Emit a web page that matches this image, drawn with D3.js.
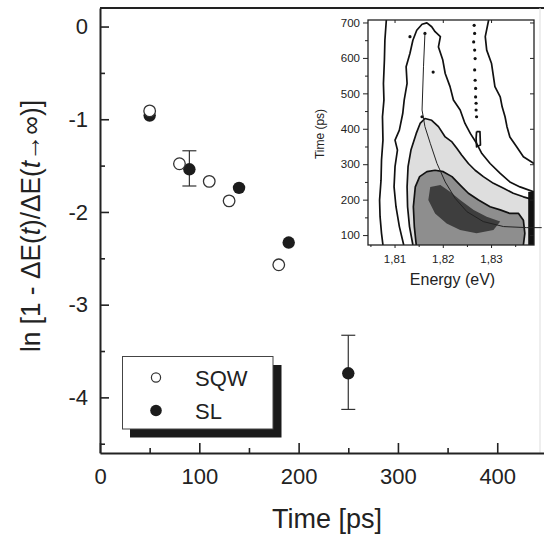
<!DOCTYPE html>
<html><head><meta charset="utf-8">
<script src="https://cdn.jsdelivr.net/npm/d3@7"></script>
<style>
body{margin:0;background:#fff}
svg{display:block}
text{font-family:"Liberation Sans",Arial,Helvetica,sans-serif;fill:#222}
</style>
</head><body>
<svg id="c" width="544" height="542"></svg>
<script>
// ---------------- main chart data ----------------
const sqwTime  = [50, 80, 110, 130, 180];
const sqwValue = [-0.91, -1.48, -1.67, -1.88, -2.57];
const slTime   = [50, 90, 140, 190, 250];
const slValue  = [-0.96, -1.54, -1.74, -2.33, -3.74];
const slErrHigh = [null, -1.34, null, null, -3.33];
const slErrLow  = [null, -1.72, null, null, -4.13];
const xTicks = [0, 100, 200, 300, 400];
const xMinorTicks = [50, 150, 250, 350];
const yTicks = [0, -1, -2, -3, -4];
const yMinorTicks = [-0.5, -1.5, -2.5, -3.5, -4.5];
const legendLabels = ["SQW", "SL"];
const xTitle = "Time [ps]";

// ---------------- inset data (energy eV, time ps) ----------------
const insetETicks = [1.81, 1.82, 1.83];
const insetEMinor = [1.805, 1.815, 1.825, 1.835];
const insetTTicks = [100, 200, 300, 400, 500, 600, 700];
const insetTMinor = [150, 250, 350, 450, 550, 650];
const contourA = [[1.8083,707],[1.8080,650],[1.8079,594],[1.8077,528],[1.8078,481],[1.8075,434],[1.8076,368],[1.8073,312],[1.8072,255],[1.8069,199],[1.8070,152],[1.8073,105],[1.8076,72]];
const contourB = [[1.8119,72],[1.8110,124],[1.8103,180],[1.8099,236],[1.8101,293],[1.8106,340],[1.8101,368],[1.8110,396],[1.8117,443],[1.8120,481],[1.8126,528],[1.8124,575],[1.8132,613],[1.8138,650],[1.8146,678],[1.8157,695],[1.8167,699],[1.8177,688],[1.8184,674],[1.8195,660],[1.8191,631],[1.8200,594],[1.8205,556],[1.8215,519],[1.8222,481],[1.8236,453],[1.8246,415],[1.8257,387],[1.8270,359],[1.8281,330],[1.8298,302],[1.8319,274],[1.8339,250],[1.8360,236],[1.8389,222]];
const contourC = [[1.8295,707],[1.8288,660],[1.8291,622],[1.8301,584],[1.8305,547],[1.8308,519],[1.8319,490],[1.8323,462],[1.8329,434],[1.8333,406],[1.8339,377],[1.8353,349],[1.8367,321],[1.8389,302]];
const contourD = [[1.8138,72],[1.8131,124],[1.8127,180],[1.8126,236],[1.8128,293],[1.8134,340],[1.8145,387],[1.8153,415],[1.8163,429],[1.8177,424],[1.8191,406],[1.8205,377],[1.8219,363],[1.8229,345],[1.8239,326],[1.8253,302],[1.8267,283],[1.8284,265],[1.8305,246],[1.8326,232],[1.8346,218],[1.8367,208],[1.8389,199]];
const contourE = [[1.8145,72],[1.8141,124],[1.8139,180],[1.8143,236],[1.8152,265],[1.8167,279],[1.8184,283],[1.8201,279],[1.8219,265],[1.8236,241],[1.8253,218],[1.8274,199],[1.8298,180],[1.8319,171],[1.8339,161],[1.8357,161],[1.8367,142],[1.8370,105],[1.8367,72]];
const contourLoop = [[1.8270,392],[1.8277,392],[1.8278,354],[1.8270,349],[1.8269,373],[1.8270,392]];
const darkCore = [[1.8174,236],[1.8195,241],[1.8215,222],[1.8236,199],[1.8264,171],[1.8291,152],[1.8319,138],[1.8305,114],[1.8270,105],[1.8236,114],[1.8208,133],[1.8184,161],[1.8170,199]];
const edgeStrip = [[1.8377,222],[1.8389,222],[1.8389,72],[1.8377,72]];
const fitLine = [[1.8163,669],[1.8160,575],[1.8157,453],[1.8163,406],[1.8174,359],[1.8188,302],[1.8205,250],[1.8226,203],[1.8250,166],[1.8284,138],[1.8326,124],[1.8374,121],[1.8405,121]];
const dotsE = [1.8265,1.8266,1.8264,1.8266,1.8267,1.8266,1.8267,1.8268,1.8268,1.8269,1.8269,1.8270,1.8163,1.8157,1.8132,1.8180];
const dotsT = [692,669,645,622,598,566,537,514,490,472,453,434,669,434,660,560];
const insetXTitle = "Energy (eV)";
const insetYTitle = "Time (ps)";

// ---------------- scales ----------------
const svg = d3.select("#c");
const x = d3.scaleLinear().domain([0, 450]).range([100, 546.9]);
const y = d3.scaleLinear().domain([-4.6, 0.2]).range([453, 8]);

// top frame line and faint right edge
svg.append("line").attr("x1", x(0)).attr("x2", x(450)).attr("y1", y(0.2)).attr("y2", y(0.2))
  .attr("stroke", "#222").attr("stroke-width", 2);
svg.append("line").attr("x1", 540).attr("x2", 540).attr("y1", y(0.2)).attr("y2", y(-4.6))
  .attr("stroke", "#ddd").attr("stroke-width", 1);

// axes
function styleAxis(g, size) {
  g.select(".domain").attr("stroke", "#222").attr("stroke-width", 2);
  g.selectAll(".tick line").attr("stroke", "#222").attr("stroke-width", 1.6);
  g.selectAll("text").attr("font-size", size).attr("font-family", '"Liberation Sans",Arial,sans-serif').attr("fill", "#222");
}
const gy = svg.append("g").attr("transform", `translate(${x(0)},0)`)
  .call(d3.axisLeft(y).tickValues(yTicks).tickSize(-9).tickSizeOuter(0).tickPadding(12).tickFormat(d => String(d)));
styleAxis(gy, 22);
const gym = svg.append("g").attr("transform", `translate(${x(0)},0)`)
  .call(d3.axisLeft(y).tickValues(yMinorTicks).tickSize(-5).tickFormat(""));
gym.select(".domain").remove();
gym.selectAll(".tick line").attr("stroke", "#222").attr("stroke-width", 1.6);

const gx = svg.append("g").attr("transform", `translate(0,${y(-4.6)})`)
  .call(d3.axisBottom(x).tickValues(xTicks).tickSize(-10).tickSizeOuter(0).tickPadding(15.5).tickFormat(d => String(d)));
styleAxis(gx, 22);
const gxm = svg.append("g").attr("transform", `translate(0,${y(-4.6)})`)
  .call(d3.axisBottom(x).tickValues(xMinorTicks).tickSize(-5).tickFormat(""));
gxm.select(".domain").remove();
gxm.selectAll(".tick line").attr("stroke", "#222").attr("stroke-width", 1.6);

// axis titles
svg.append("text").attr("x", 327).attr("y", 528).attr("text-anchor", "middle")
  .attr("font-size", 27).text(xTitle);
const yt = svg.append("text").attr("transform", "translate(40,226) rotate(-90)")
  .attr("text-anchor", "middle").attr("font-size", 27).attr("textLength", 252).attr("lengthAdjust", "spacingAndGlyphs");
yt.append("tspan").text("ln [1 - \u0394E(");
yt.append("tspan").attr("font-style", "italic").text("t");
yt.append("tspan").text(")/\u0394E(");
yt.append("tspan").attr("font-style", "italic").text("t");
yt.append("tspan").text("\u2192\u221e)]");

// error bars
const errIdx = d3.range(slTime.length).filter(i => slErrHigh[i] !== null);
const eg = svg.append("g").attr("stroke", "#333").attr("stroke-width", 1.2);
errIdx.forEach(i => {
  eg.append("line").attr("x1", x(slTime[i])).attr("x2", x(slTime[i])).attr("y1", y(slErrHigh[i])).attr("y2", y(slErrLow[i]));
  [slErrHigh[i], slErrLow[i]].forEach(v => {
    eg.append("line").attr("x1", x(slTime[i]) - 7).attr("x2", x(slTime[i]) + 7).attr("y1", y(v)).attr("y2", y(v));
  });
});

// SL points (filled)
svg.append("g").selectAll("circle").data(slTime).join("circle")
  .attr("cx", d => x(d)).attr("cy", (d, i) => y(slValue[i])).attr("r", 6.2)
  .attr("fill", "#1c1c1c");
// SQW points (open)
svg.append("g").selectAll("circle").data(sqwTime).join("circle")
  .attr("cx", d => x(d)).attr("cy", (d, i) => y(sqwValue[i])).attr("r", 5.8)
  .attr("fill", "#fff").attr("stroke", "#333").attr("stroke-width", 1.3);

// legend
const lg = svg.append("g");
lg.append("rect").attr("x", 130).attr("y", 365).attr("width", 151.5).attr("height", 72.5).attr("fill", "#1a1a1a");
lg.append("rect").attr("x", 122.5).attr("y", 356.5).attr("width", 150.5).attr("height", 72.5)
  .attr("fill", "#fff").attr("stroke", "#444").attr("stroke-width", 1);
lg.append("circle").attr("cx", 156).attr("cy", 377.5).attr("r", 4.6).attr("fill", "#fff").attr("stroke", "#333").attr("stroke-width", 1.2);
lg.append("circle").attr("cx", 156).attr("cy", 410.5).attr("r", 5.8).attr("fill", "#1c1c1c");
lg.append("text").attr("x", 195).attr("y", 385.5).attr("font-size", 22).text(legendLabels[0]);
lg.append("text").attr("x", 195).attr("y", 418.5).attr("font-size", 22).text(legendLabels[1]);

// ---------------- inset ----------------
const ix = d3.scaleLinear().domain([1.8045, 1.8389]).range([368, 534]);
const iy = d3.scaleLinear().domain([72, 707]).range([245, 20]);
svg.append("defs").append("clipPath").attr("id", "ic").append("rect")
  .attr("x", ix.range()[0]).attr("y", iy.range()[1]).attr("width", ix.range()[1] - ix.range()[0]).attr("height", iy.range()[0] - iy.range()[1]);
svg.append("rect").attr("x", ix.range()[0]).attr("y", iy.range()[1]).attr("width", ix.range()[1] - ix.range()[0]).attr("height", iy.range()[0] - iy.range()[1]).attr("fill", "#fff");
const ig = svg.append("g").attr("clip-path", "url(#ic)");
const line = d3.line().x(d => ix(d[0])).y(d => iy(d[1]));
const area = pts => line(pts) + "Z";
ig.append("path").attr("d", area(contourD.concat([[1.8389, 72]]))).attr("fill", "#dedede");
ig.append("path").attr("d", area(contourE)).attr("fill", "#8e8e8e");
ig.append("path").attr("d", area(darkCore)).attr("fill", "#3e3e3e");
ig.append("path").attr("d", area(edgeStrip)).attr("fill", "#111");
[contourA, contourB, contourC, contourD, contourE, contourLoop].forEach(c => {
  ig.append("path").attr("d", line(c)).attr("fill", "none").attr("stroke", "#111").attr("stroke-width", 1.7).attr("stroke-linejoin", "round");
});
ig.selectAll("circle.dot").data(dotsE).join("circle").attr("class", "dot")
  .attr("cx", d => ix(d)).attr("cy", (d, i) => iy(dotsT[i])).attr("r", 1.6).attr("fill", "#111");
svg.append("path").attr("d", line(fitLine)).attr("fill", "none").attr("stroke", "#222").attr("stroke-width", 1);

// inset frame + axes
svg.append("rect").attr("x", ix.range()[0]).attr("y", iy.range()[1]).attr("width", ix.range()[1] - ix.range()[0]).attr("height", iy.range()[0] - iy.range()[1])
  .attr("fill", "none").attr("stroke", "#222").attr("stroke-width", 1.3);
function styleInset(g) {
  g.select(".domain").remove();
  g.selectAll(".tick line").attr("stroke", "#222").attr("stroke-width", 1);
  g.selectAll("text").attr("font-size", 11.5).attr("font-family", '"Liberation Sans",Arial,sans-serif').attr("fill", "#222");
}
const iyl = svg.append("g").attr("transform", `translate(${ix.range()[0]},0)`)
  .call(d3.axisLeft(iy).tickValues(insetTTicks).tickSize(5).tickPadding(3));
styleInset(iyl);
const iylm = svg.append("g").attr("transform", `translate(${ix.range()[0]},0)`)
  .call(d3.axisLeft(iy).tickValues(insetTMinor).tickSize(3).tickFormat(""));
styleInset(iylm);
const iyr = svg.append("g").attr("transform", `translate(${ix.range()[1]},0)`)
  .call(d3.axisRight(iy).tickValues(insetTTicks).tickSize(-4).tickFormat(""));
styleInset(iyr);
const ixb = svg.append("g").attr("transform", `translate(0,${iy.range()[0]})`)
  .call(d3.axisBottom(ix).tickValues(insetETicks).tickSize(3).tickPadding(7).tickFormat(d => d.toFixed(2).replace(".", ",")));
styleInset(ixb);
const ixbm = svg.append("g").attr("transform", `translate(0,${iy.range()[0]})`)
  .call(d3.axisBottom(ix).tickValues(insetEMinor).tickSize(2).tickFormat(""));
styleInset(ixbm);
const ixt = svg.append("g").attr("transform", `translate(0,${iy.range()[1]})`)
  .call(d3.axisTop(ix).tickValues(insetETicks).tickSize(-3).tickFormat(""));
styleInset(ixt);
svg.append("text").attr("x", 452.5).attr("y", 285).attr("text-anchor", "middle").attr("font-size", 16).text(insetXTitle);
svg.append("text").attr("transform", "translate(324,134) rotate(-90)").attr("text-anchor", "middle").attr("font-size", 12).text(insetYTitle);
</script>
</body></html>
